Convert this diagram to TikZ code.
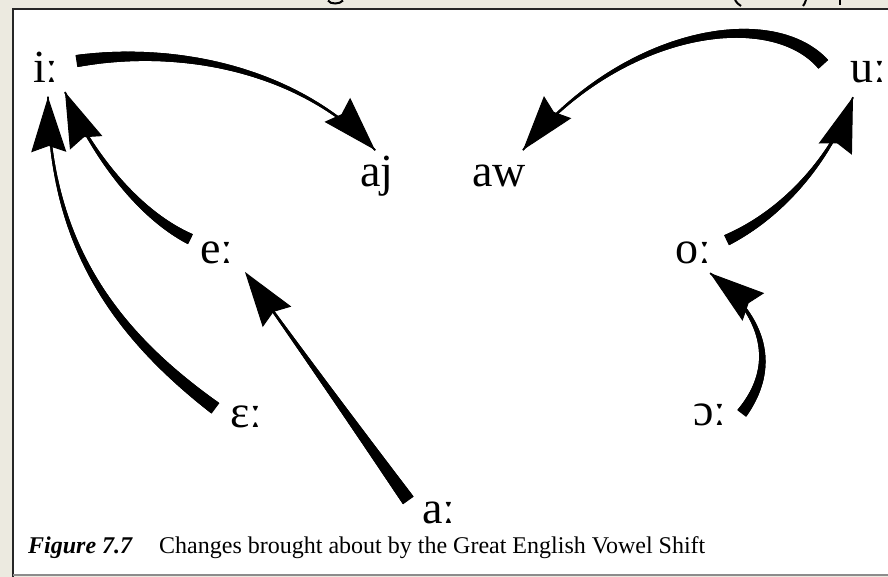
\documentclass[tikz,border=0pt]{standalone}
\usepackage{fontspec}
\setmainfont{Liberation Serif}
\usetikzlibrary{arrows.meta,decorations.markings,calc}
\definecolor{beige}{RGB}{236,234,224}
\newcommand{\lng}{\textbf{ː}}
\begin{document}
\begin{tikzpicture}[x=1pt,y=-1pt,
  lab/.style={inner sep=0pt, anchor=base west, font=\fontsize{46}{50}\selectfont},
  tip/.style={-{Stealth[length=55pt,width=35pt,inset=6pt]}, line width=1pt},
  tap/.style={postaction={decorate,decoration={markings,
    mark=between positions 0 and 0.99 step 0.5pt with {
      \pgfmathsetmacro\sv{max(0.001,1-(\pgfkeysvalueof{/pgf/decoration/mark info/distance from start})/\pgfdecoratedpathlength)}
      \pgfmathsetmacro\tw{1.5+(#1-1.5)*\sv*sqrt(\sv)}
      \fill (-0.6pt,-0.5*\tw pt) rectangle (0.6pt,0.5*\tw pt);
    }}}}]
\useasboundingbox (0,0) rectangle (888,577);
% background and frame
\fill[beige] (0,0) rectangle (888,577);
\fill[white] (13,9) rectangle (888,575);
\draw[line width=2.5pt,black!85] (13,577) -- (13,9) -- (888,9);
\draw[line width=1.5pt,black!45] (13,575) -- (888,575);
% cut-off marks of the page above
\draw[line width=2pt] (328,0.5) .. controls (330,4.5) and (340,4.5) .. (343,0.5);
\draw[line width=2pt] (735,0) .. controls (737,3) and (739,5) .. (741,6);
\draw[line width=2pt] (806,0) .. controls (805,3) and (804,5) .. (803,6);
\draw[line width=2.5pt] (840,0) -- (840,5.5);
% labels
\node[lab] (i)  at (33,83)   {i\lng};
\node[lab] (aj) at (360,187) {aj};
\node[lab] (aw) at (472,187) {aw};
\node[lab] (u)  at (850,83)  {u\lng};
\node[lab] (e)  at (200,263) {e\lng};
\node[lab] (o)  at (675,263) {o\lng};
\node[lab] (E)  at (230,427) {ɛ\lng};
\node[lab] (O)  at (693,425) {ɔ\lng};
\node[lab] (a)  at (422,523) {a\lng};
% connector end points
\coordinate (i-s)  at (77,61);   \coordinate (aj-t) at (375,150);
\coordinate (e-s)  at (190,239); \coordinate (i-t1) at (65,92);
\coordinate (E-s)  at (215,408); \coordinate (i-t2) at (48,97);
\coordinate (a-s)  at (408,500); \coordinate (e-t)  at (245,272);
\coordinate (u-s)  at (823,64);  \coordinate (aw-t) at (523,150);
\coordinate (o-s)  at (727,240); \coordinate (u-t)  at (853,97);
\coordinate (O-s)  at (742,413); \coordinate (o-t)  at (710,273);
% shifts: tapered strokes
\path[tap=12] (i-s) .. controls (180,45) and (300,70) .. (aj-t);
\path[tap=11] (e-s) .. controls (130,210) and (85,140) .. (i-t1);
\path[tap=13] (E-s) .. controls (110,330) and (50,240) .. (i-t2);
\path[tap=13] (a-s) -- (e-t);
\path[tap=13] (u-s) .. controls (770,5) and (620,30) .. (aw-t);
\path[tap=11] (o-s) .. controls (790,210) and (835,150) .. (u-t);
\path[tap=11] (O-s) .. controls (775,370) and (770,320) .. (o-t);
% arrowheads along the end tangents
\draw[tip] ($(aj-t)!45pt!(300,70)$) -- (aj-t);
\draw[tip] ($(i-t1)!45pt!(85,140)$) -- (i-t1);
\draw[tip] ($(i-t2)!45pt!(50,240)$) -- (i-t2);
\draw[tip] ($(e-t)!45pt!(a-s)$) -- (e-t);
\draw[tip] ($(aw-t)!45pt!(620,30)$) -- (aw-t);
\draw[tip] ($(u-t)!45pt!(835,150)$) -- (u-t);
\draw[tip] ($(o-t)!45pt!(770,320)$) -- (o-t);
% caption
\node[inner sep=0pt,anchor=base west,font=\fontsize{24}{26}\selectfont] (cap) at (28,553)
  {{\bfseries\itshape Figure 7.7}\hspace{27pt}Changes brought about by the Great English Vowel Shift};
\end{tikzpicture}
\end{document}
